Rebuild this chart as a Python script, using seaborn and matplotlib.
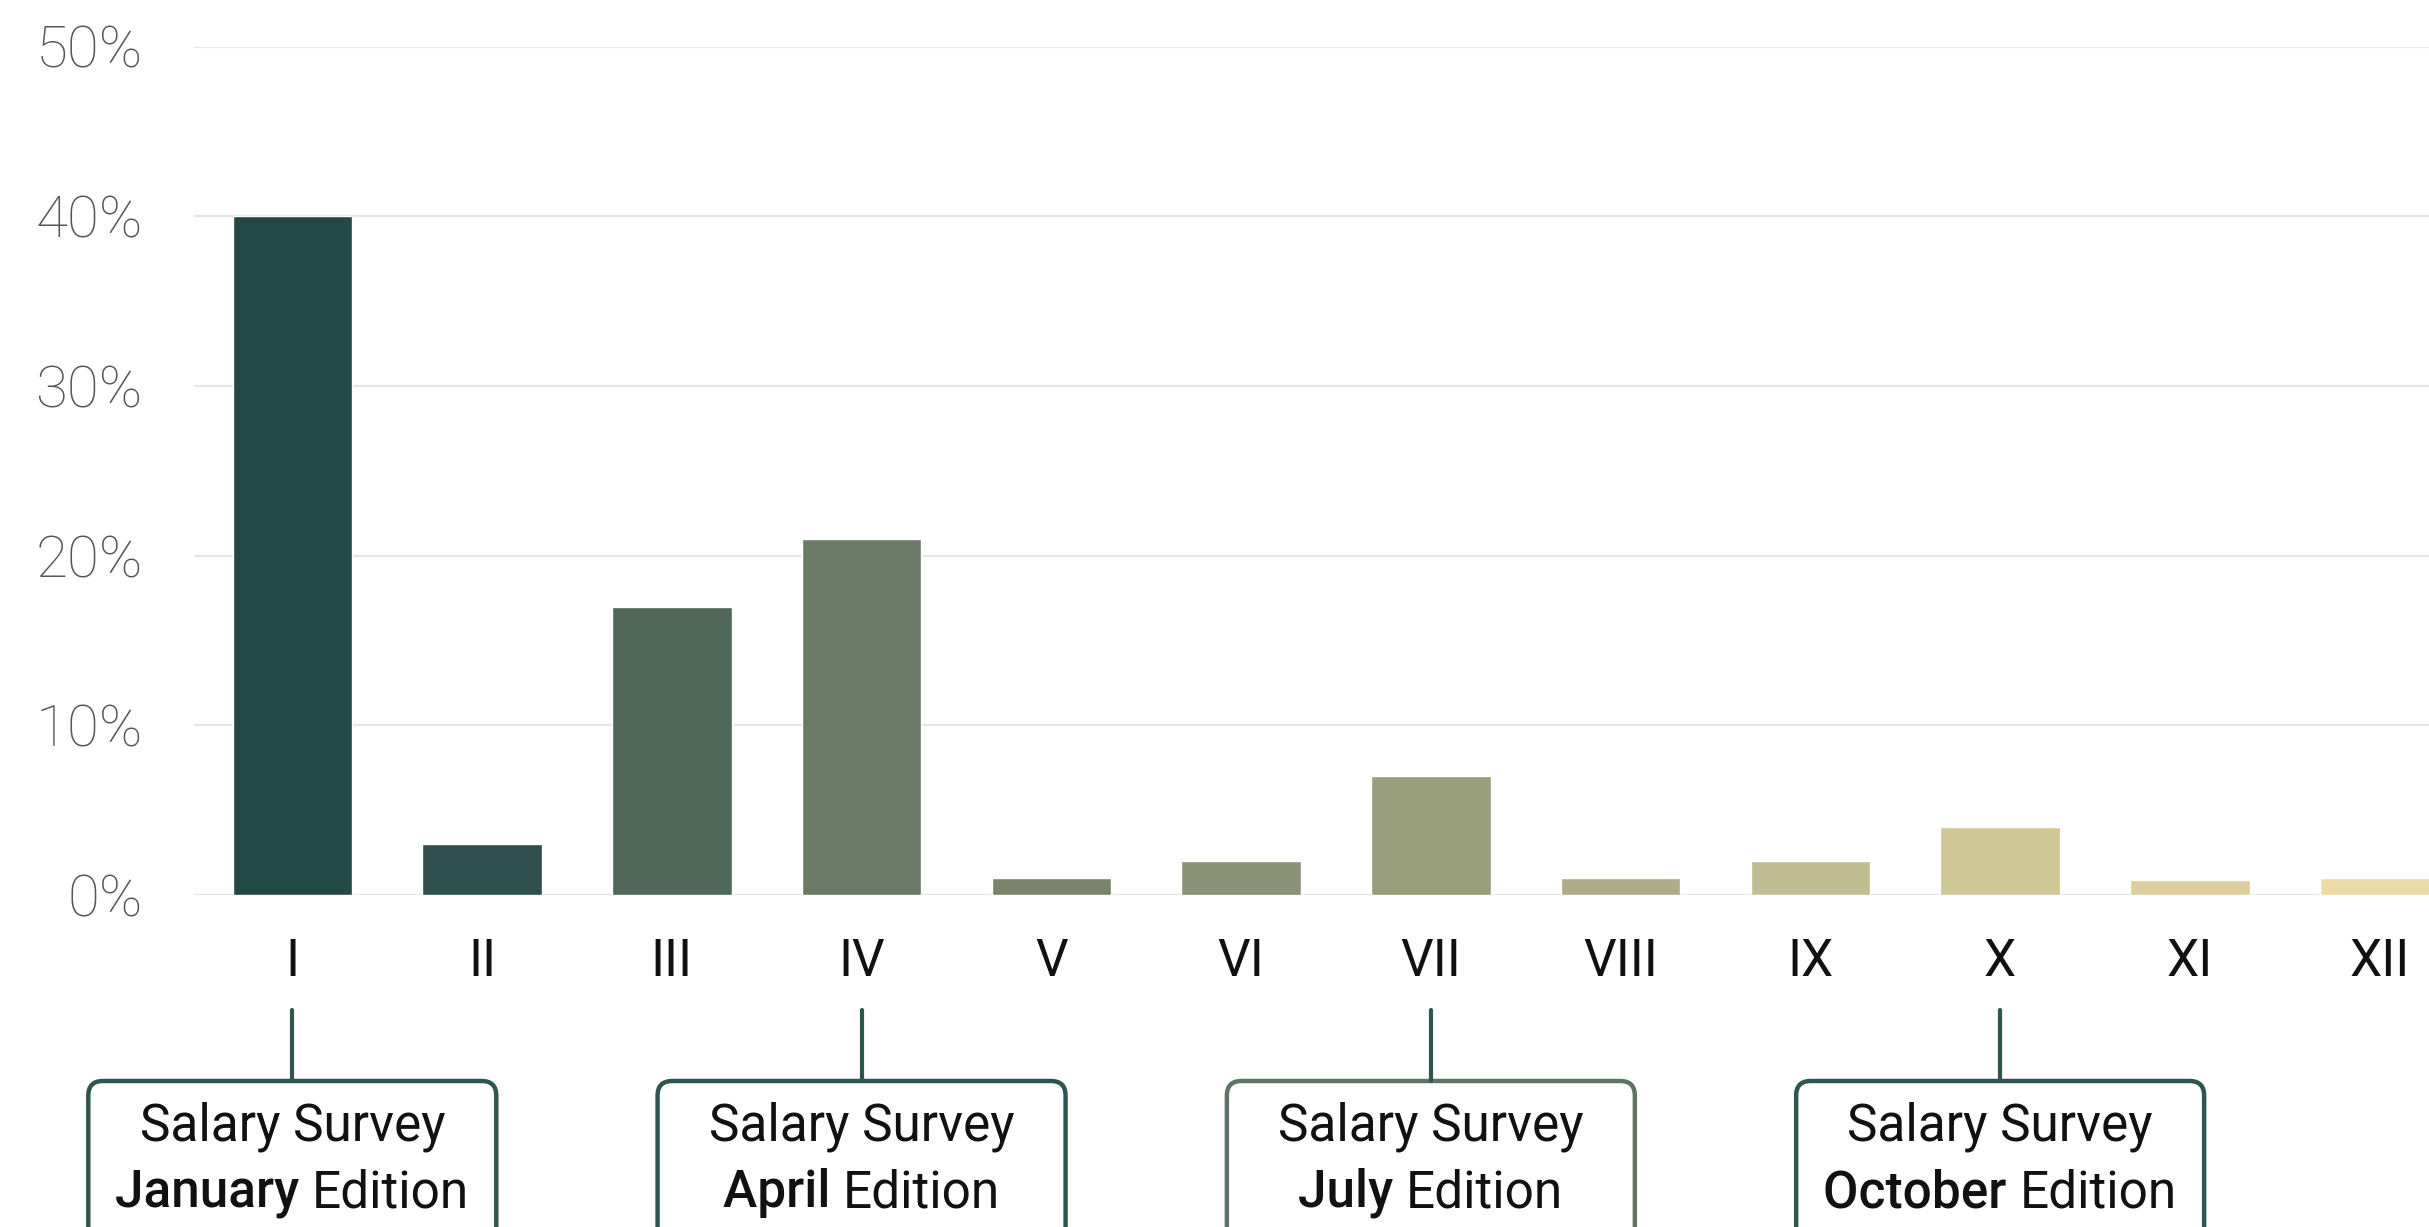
import matplotlib
matplotlib.use("Agg")
import matplotlib.pyplot as plt
import seaborn as sns
from matplotlib.patches import FancyBboxPatch
from matplotlib.ticker import FuncFormatter

# data
categories = ["I", "II", "III", "IV", "V", "VI", "VII", "VIII", "IX", "X", "XI", "XII"]
values = [40, 3, 17, 21, 1, 2, 7, 1, 2, 4, 0.9, 1]
bar_colors = ["#234846", "#2f4f4e", "#4f6759", "#6a7a66", "#7a846b", "#8b9476",
              "#999e7c", "#aead87", "#c1bd92", "#cfc796", "#dbce9c", "#eddba5"]
yticks = [0, 10, 20, 30, 40, 50]

# annotation boxes under some of the months
note_cats = ["I", "IV", "VII", "X"]
note_bold = ["January", "April", "July", "October"]
note_edge = ["#2f5550", "#2f5550", "#5e7565", "#2f5550"]

sns.set_style("white")
plt.rcParams["font.family"] = ["Roboto", "DejaVu Sans"]

W, H = 2429, 1227
fig = plt.figure(figsize=(W / 100, H / 100), dpi=100)
ax = fig.add_axes([194 / W, 1 - 895 / H, 1 - 194 / W, (895 - 46.5) / H])

sns.barplot(x=categories, y=values, hue=categories, palette=bar_colors,
            legend=False, width=0.63, saturation=1, ax=ax, zorder=3)

ax.set_ylim(0, 50)
ax.set_xlim(-0.518, 11.26)
ax.set_yticks(yticks)
ax.yaxis.set_major_formatter(FuncFormatter(lambda v, p: f"{v:.0f}%"))
ax.grid(axis="y", color="#e6e6e6", linewidth=1.6, zorder=0)
ax.set_axisbelow(True)
sns.despine(ax=ax, left=True, bottom=True)
ax.set_xlabel("")
ax.set_ylabel("")
ax.tick_params(axis="y", length=0, pad=37, labelsize=42, labelcolor="#555555")
ax.tick_params(axis="x", length=0, pad=30, labelsize=37, labelcolor="#111111")
for t in ax.get_yticklabels():
    t.set_fontweight("light")

# connectors + boxes, placed in figure coords
to_fig = ax.transData + fig.transFigure.inverted()
box_w = 2.15  # in category units
fig.canvas.draw()
renderer = fig.canvas.get_renderer()
for cat, word, edge in zip(note_cats, note_bold, note_edge):
    i = categories.index(cat)
    xc = to_fig.transform((i, 0))[0]
    xl = to_fig.transform((i - box_w / 2, 0))[0]
    xr = to_fig.transform((i + box_w / 2, 0))[0]
    top = 1 - 1081 / H
    fig.add_artist(plt.Line2D([xc, xc], [1 - 1010 / H, top], color="#2f5550", lw=3))
    box = FancyBboxPatch((xl, -0.2), xr - xl, top + 0.2,
                         boxstyle="round,pad=0,rounding_size=0.006",
                         mutation_aspect=W / H, transform=fig.transFigure,
                         facecolor="white", edgecolor=edge, lw=3.2)
    fig.add_artist(box)
    fig.text(xc, 1 - 1127 / H, "Salary Survey", ha="center", va="center",
             fontsize=37, color="#111111")
    # second line: bold month + regular "Edition", centred together
    tb = fig.text(0, 0, word + " ", fontsize=37, fontweight="medium")
    tr = fig.text(0, 0, "Edition", fontsize=37)
    wb = tb.get_window_extent(renderer).width / W
    wr = tr.get_window_extent(renderer).width / W
    x0 = xc - (wb + wr) / 2
    y2 = 1 - 1193 / H
    tb.set_position((x0, y2))
    tb.set_va("center")
    tb.set_color("#111111")
    tr.set_position((x0 + wb, y2))
    tr.set_va("center")
    tr.set_color("#111111")

fig.savefig("out.png", dpi=100)
